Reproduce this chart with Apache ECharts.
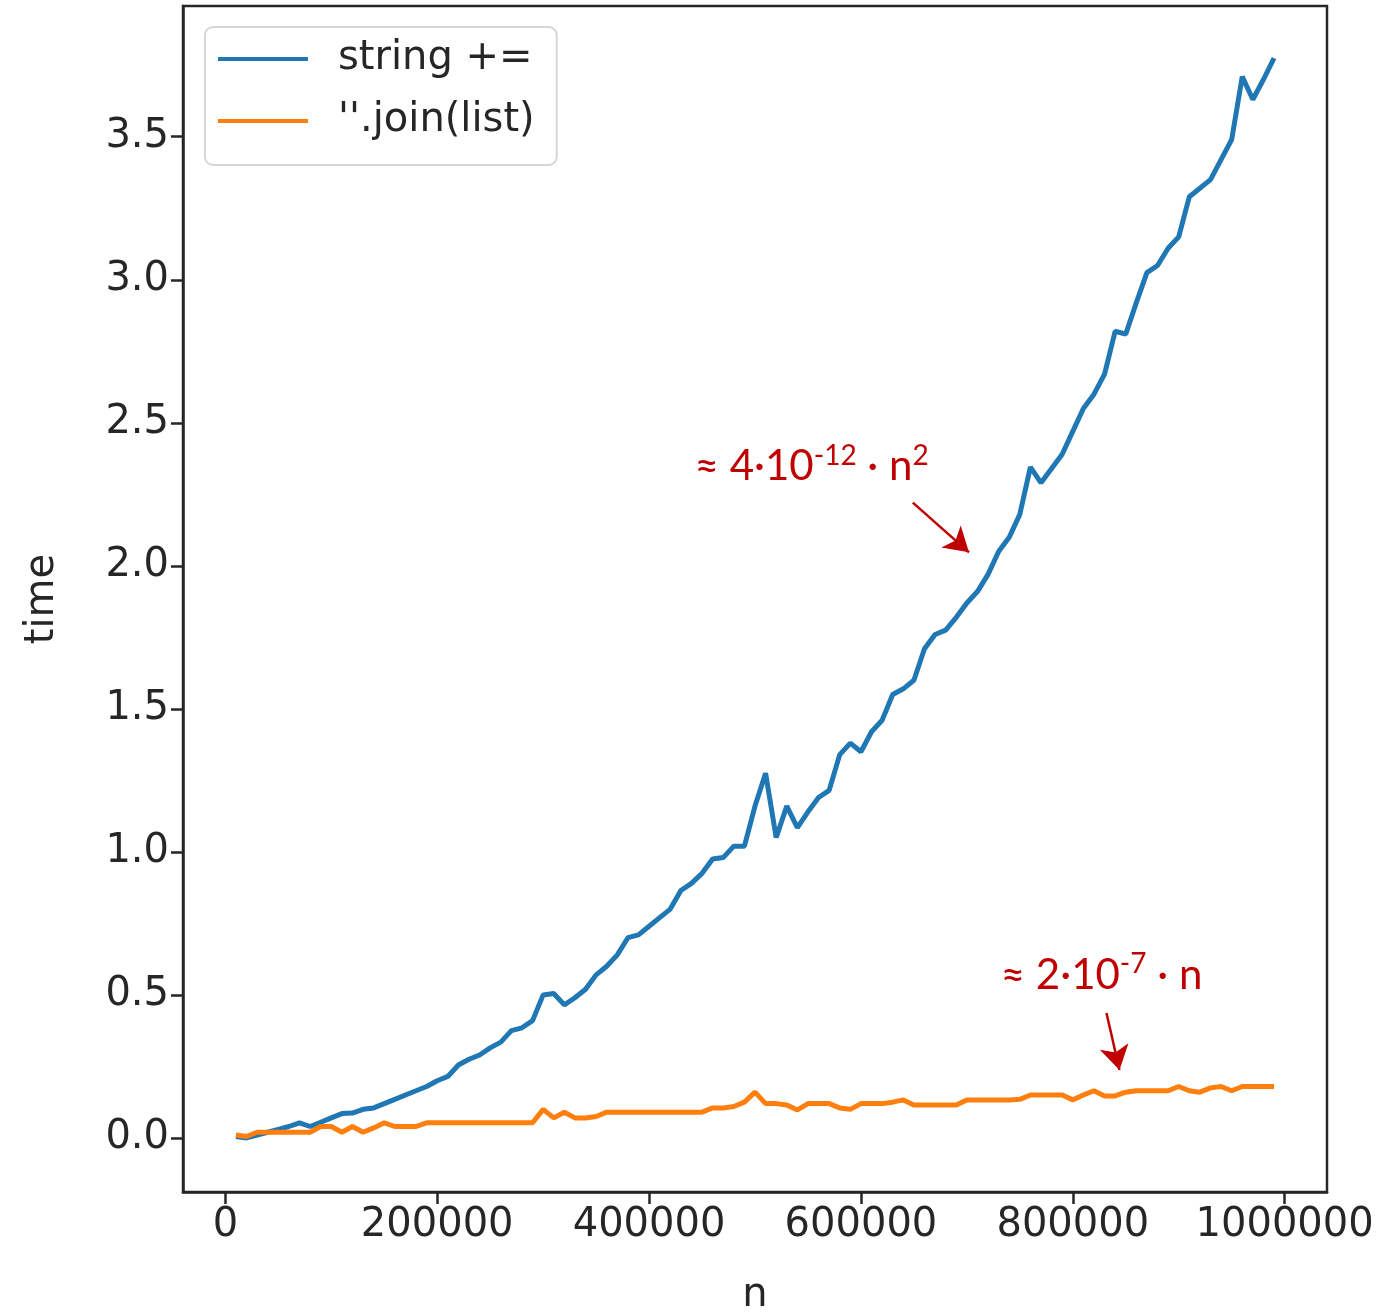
<!DOCTYPE html>
<html>
<head>
<meta charset="utf-8">
<script src="https://cdn.jsdelivr.net/npm/echarts@6/dist/echarts.min.js"></script>
<style>
html,body{margin:0;padding:0;background:#fff;}
#chart{width:1380px;height:1313px;}
</style>
</head>
<body>
<div id="chart"></div>
<script>
const nValues = [10000,20000,30000,40000,50000,60000,70000,80000,90000,100000,
110000,120000,130000,140000,150000,160000,170000,180000,190000,200000,
210000,220000,230000,240000,250000,260000,270000,280000,290000,300000,
310000,320000,330000,340000,350000,360000,370000,380000,390000,400000,
410000,420000,430000,440000,450000,460000,470000,480000,490000,500000,
510000,520000,530000,540000,550000,560000,570000,580000,590000,600000,
610000,620000,630000,640000,650000,660000,670000,680000,690000,700000,
710000,720000,730000,740000,750000,760000,770000,780000,790000,800000,
810000,820000,830000,840000,850000,860000,870000,880000,890000,900000,
910000,920000,930000,940000,950000,960000,970000,980000,990000];

const stringConcat = [0.005,0.0,0.01,0.02,0.03,0.04,0.053,0.04,0.055,0.07,
0.085,0.087,0.10,0.105,0.12,0.135,0.15,0.165,0.18,0.20,
0.215,0.255,0.275,0.29,0.315,0.335,0.375,0.385,0.41,0.50,
0.505,0.465,0.49,0.52,0.57,0.60,0.64,0.70,0.71,0.74,
0.77,0.80,0.865,0.89,0.925,0.975,0.98,1.02,1.02,1.16,
1.275,1.05,1.16,1.085,1.14,1.19,1.215,1.34,1.38,1.35,
1.42,1.46,1.55,1.57,1.60,1.71,1.76,1.775,1.82,1.87,
1.91,1.97,2.05,2.10,2.18,2.345,2.29,2.34,2.39,2.47,
2.55,2.60,2.67,2.82,2.81,2.92,3.025,3.05,3.11,3.15,
3.29,3.32,3.35,3.42,3.49,3.71,3.63,3.70,3.775];

const joinList = [0.01,0.005,0.02,0.02,0.02,0.02,0.02,0.02,0.04,0.04,
0.02,0.04,0.02,0.035,0.053,0.04,0.04,0.04,0.053,0.053,
0.053,0.053,0.053,0.053,0.053,0.053,0.053,0.053,0.053,0.10,
0.07,0.09,0.07,0.07,0.075,0.09,0.09,0.09,0.09,0.09,
0.09,0.09,0.09,0.09,0.09,0.105,0.105,0.11,0.125,0.16,
0.12,0.12,0.115,0.098,0.12,0.12,0.12,0.105,0.10,0.12,
0.12,0.12,0.125,0.133,0.115,0.115,0.115,0.115,0.115,0.133,
0.133,0.133,0.133,0.133,0.135,0.15,0.15,0.15,0.15,0.133,
0.15,0.165,0.147,0.147,0.16,0.165,0.165,0.165,0.165,0.18,
0.165,0.16,0.175,0.18,0.165,0.18,0.18,0.18,0.18];

const seriesNames = ['string +=', "''.join(list)"];
const xTicks = [0,200000,400000,600000,800000,1000000];
const yTicks = [0,0.5,1.0,1.5,2.0,2.5,3.0,3.5];

// annotation anchors (data coordinates)
const quadLabelAnchor = [443000, 2.347];
const linLabelAnchor = [732000, 0.569];
const quadArrow = [[649000, 2.221],[702000, 2.047]];
const linArrow = [[831800, 0.437],[844100, 0.2375]];

const toPairs = (ys) => nValues.map((n,i)=>[n, ys[i]]);
const red = '#C00000';
const axisFont = '"DejaVu Sans", sans-serif';
const annFont = 'Lato, "Open Sans", sans-serif';
const textCol = '#262626';

const chart = echarts.init(document.getElementById('chart'), null, {renderer:'canvas'});

const option = {
  backgroundColor:'#ffffff',
  animation:false,
  grid:{left:183,right:53,top:6,bottom:121,containLabel:false,outerBoundsMode:'none',
        show:true,borderColor:textCol,borderWidth:2.5,backgroundColor:'transparent'},
  legend:{
    orient:'vertical', left:205, top:27,
    data:seriesNames,
    icon:'rect', itemWidth:90, itemHeight:4, itemGap:18,
    backgroundColor:'#ffffff', borderColor:'#d6d6d6', borderWidth:2, borderRadius:8,
    padding:[10,22,22,13],
    textStyle:{fontFamily:axisFont,fontSize:40,color:textCol,lineHeight:44,padding:[0,0,0,25]}
  },
  xAxis:{
    type:'value', min:-40000, max:1040000,
    name:'n', nameLocation:'middle', nameGap:84,
    nameTextStyle:{fontFamily:axisFont,fontSize:40,color:textCol},
    splitLine:{show:false},
    axisLine:{show:true,onZero:false,lineStyle:{color:textCol,width:2.5}},
    axisTick:{show:true,length:12,lineStyle:{color:textCol,width:2.5},customValues:xTicks},
    axisLabel:{fontFamily:axisFont,fontSize:40,color:textCol,margin:14,customValues:xTicks,formatter:(v)=>String(v)}
  },
  yAxis:{
    type:'value', min:-0.189, max:3.957,
    name:'time', nameLocation:'middle', nameGap:120, nameRotate:90,
    nameTextStyle:{fontFamily:axisFont,fontSize:40,color:textCol},
    splitLine:{show:false},
    axisLine:{show:true,onZero:false,lineStyle:{color:textCol,width:2.5}},
    axisTick:{show:true,length:12,lineStyle:{color:textCol,width:2.5},customValues:yTicks},
    axisLabel:{fontFamily:axisFont,fontSize:40,color:textCol,margin:14,customValues:yTicks,formatter:(v)=>v.toFixed(1)}
  },
  series:[
    {
      name:seriesNames[0], type:'line', data:toPairs(stringConcat),
      showSymbol:false, symbol:'none', lineStyle:{color:'#1f77b4',width:5}, itemStyle:{color:'#1f77b4'},
      z:3,
      markLine:{
        silent:true, symbol:['none','arrow'], symbolSize:[22,24],
        lineStyle:{color:red,width:2.5,type:'solid'},
        label:{show:false},
        data:[[{coord:quadArrow[0]},{coord:quadArrow[1]}]]
      }
    },
    {
      name:seriesNames[1], type:'line', data:toPairs(joinList),
      showSymbol:false, symbol:'none', lineStyle:{color:'#ff7f0e',width:5}, itemStyle:{color:'#ff7f0e'},
      z:4,
      markLine:{
        silent:true, symbol:['none','arrow'], symbolSize:[22,24],
        lineStyle:{color:red,width:2.5,type:'solid'},
        label:{show:false},
        data:[[{coord:linArrow[0]},{coord:linArrow[1]}]]
      }
    }
  ]
};
chart.setOption(option);

const richStyles = {
  b:{fontFamily:annFont,fontSize:42,fill:red,lineHeight:50},
  s:{fontFamily:annFont,fontSize:28,fill:red,lineHeight:50,padding:[0,0,22,0]}
};
const p1 = chart.convertToPixel({gridIndex:0}, quadLabelAnchor);
const p2 = chart.convertToPixel({gridIndex:0}, linLabelAnchor);
chart.setOption({
  graphic:[
    {type:'text', x:p1[0], y:p1[1], z:10,
     style:{text:'{b|≈ 4·10}{s|-12}{b| · n}{s|2}', fill:red, rich:richStyles, verticalAlign:'middle', align:'left'}},
    {type:'text', x:p2[0], y:p2[1], z:10,
     style:{text:'{b|≈ 2·10}{s|-7}{b| · n}', fill:red, rich:richStyles, verticalAlign:'middle', align:'left'}}
  ]
});
</script>
</body>
</html>
